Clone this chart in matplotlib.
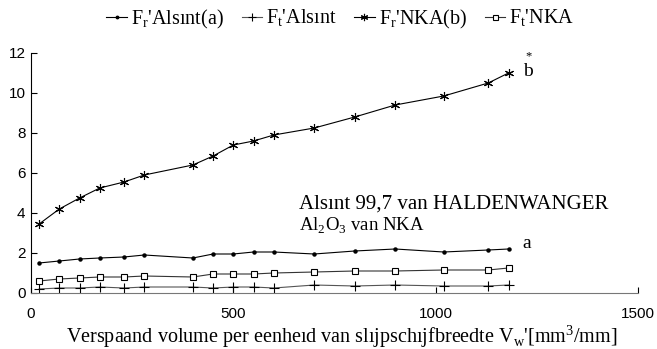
import matplotlib
matplotlib.use("Agg")
import matplotlib.pyplot as plt

# Data
x_vals = [20, 70, 120, 170, 230, 280, 400, 450, 500, 550, 600, 700, 800, 900, 1020, 1130, 1180]
fr_alsint = [1.5, 1.6, 1.7, 1.75, 1.8, 1.9, 1.75, 1.95, 1.95, 2.05, 2.05, 1.95, 2.1, 2.2, 2.05, 2.15, 2.2]
ft_alsint = [0.2, 0.25, 0.25, 0.3, 0.25, 0.3, 0.3, 0.25, 0.3, 0.3, 0.25, 0.4, 0.35, 0.4, 0.35, 0.35, 0.4]
fr_nka = [3.45, 4.2, 4.75, 5.25, 5.55, 5.9, 6.4, 6.85, 7.4, 7.6, 7.9, 8.25, 8.8, 9.4, 9.85, 10.5, 11.0]
ft_nka = [0.6, 0.7, 0.75, 0.8, 0.8, 0.85, 0.8, 0.95, 0.95, 0.95, 1.0, 1.05, 1.1, 1.1, 1.15, 1.15, 1.25]

labels = ["F$_\\mathregular{r}$'Alsınt(a)", "F$_\\mathregular{t}$'Alsınt",
          "F$_\\mathregular{r}$'NKA(b)", "F$_\\mathregular{t}$'NKA"]
x_ticks = [0, 500, 1000, 1500]
y_ticks = [0, 2, 4, 6, 8, 10, 12]

plt.rcParams['mathtext.fontset'] = 'custom'
plt.rcParams['mathtext.rm'] = 'Liberation Serif'
serif = 'Liberation Serif'
sans = 'Liberation Sans'

fig = plt.figure(figsize=(6.57, 3.49), dpi=100)
ax = fig.add_axes([31/657, 1-293/349, (638-31)/657, (293-53)/349])

h1, = ax.plot(x_vals, fr_alsint, color='black', lw=0.8, marker='o', ms=2.2)
h2, = ax.plot(x_vals, ft_alsint, color='#555555', lw=0.8, marker='+', ms=7, mec='black', mew=0.8)
h3, = ax.plot(x_vals, fr_nka, color='black', lw=0.8, marker=(6, 2, 0), ms=6.5, mew=0.8)
h4, = ax.plot(x_vals, ft_nka, color='#333333', lw=0.8, marker='s', ms=4.5, mfc='white', mec='black', mew=0.8)

ax.set_xlim(0, 1500)
ax.set_ylim(0, 12)
ax.set_xticks(x_ticks)
ax.set_yticks(y_ticks)
ax.tick_params(direction='in', length=4, width=0.8, labelsize=11)
for lab in ax.get_xticklabels() + ax.get_yticklabels():
    lab.set_fontfamily(sans)
ax.tick_params(axis='x', pad=10)
ax.tick_params(axis='y', pad=4)
ax.spines['top'].set_visible(False)
ax.spines['right'].set_visible(False)
ax.spines['left'].set_linewidth(0.8)
ax.spines['bottom'].set_linewidth(0.8)
ax.spines['bottom'].set_color('#777777')

ax.set_xlabel("Verspaand volume per eenheıd van slıjpschıjfbreedte V$_\\mathregular{w}$'[mm$^\\mathregular{3}$/mm]",
              fontfamily=serif, fontsize=14.5)
ax.xaxis.set_label_coords(0.512, -0.125)
ax.xaxis.label.set_va('top')

ax.text(1215, 11.1, "b", fontfamily=serif, fontsize=14, va='center', ha='left')
ax.text(1221, 11.85, "*", fontfamily=serif, fontsize=9, va='center', ha='left')
ax.text(1215, 2.5, "a", fontfamily=serif, fontsize=14, va='center', ha='left')
ax.text(662, 4.45, "Alsınt 99,7 van HALDENWANGER", fontfamily=serif, fontsize=15, va='center', ha='left')
ax.text(662, 3.35, "Al$_\\mathregular{2}$O$_\\mathregular{3}$ van NKA", fontfamily=serif, fontsize=13.5, va='center', ha='left')

fig.legend([h1, h2, h3, h4], labels, loc='center', bbox_to_anchor=(0.518, 0.945), ncol=4,
           frameon=False, prop={'family': serif, 'size': 14.5}, handlelength=1.0,
           handletextpad=0.2, columnspacing=0.9, markerscale=0.8, borderpad=0)

fig.savefig("out.png", dpi=100)
